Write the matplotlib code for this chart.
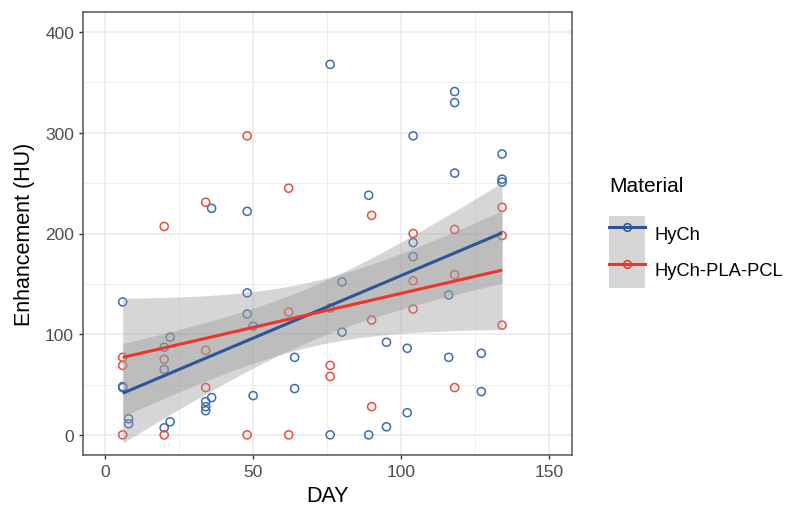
import numpy as np
import matplotlib
matplotlib.use("Agg")
import matplotlib.pyplot as plt
from matplotlib.lines import Line2D
from matplotlib.patches import Rectangle
from matplotlib.legend_handler import HandlerTuple

plt.rcParams['font.family'] = ['Liberation Sans', 'DejaVu Sans']

# HyCh
hych_day = [6, 6, 6, 8, 8, 20, 20, 20, 22, 22, 34, 34, 34, 36, 36,
            48, 48, 48, 50, 50, 64, 64, 76, 76, 76, 80, 80, 89, 89,
            95, 95, 102, 102, 104, 104, 104, 116, 116, 118, 118, 118,
            127, 127, 134, 134, 134]
hych_hu = [132, 47, 48, 16, 11, 7, 87, 65, 13, 97, 33, 28, 24, 37, 225,
           222, 141, 120, 108, 39, 77, 46, 368, 126, 0, 152, 102, 238, 0,
           92, 8, 86, 22, 297, 191, 177, 139, 77, 341, 330, 260,
           81, 43, 279, 254, 251]

# HyCh-PLA-PCL
pcl_day = [6, 6, 6, 20, 20, 20, 34, 34, 34, 48, 48, 62, 62, 62, 76, 76,
           90, 90, 90, 104, 104, 104, 118, 118, 118, 134, 134, 134]
pcl_hu = [77, 69, 0, 207, 75, 0, 231, 84, 47, 297, 0, 245, 122, 0, 69, 58,
          218, 114, 28, 200, 153, 125, 204, 159, 47, 226, 198, 109]

materials = ["HyCh", "HyCh-PLA-PCL"]
point_colors = ["#3E6CB0", "#EC4B3E"]
line_colors = ["#2C5597", "#EE3529"]


def t_quantile(df, z=1.959964):
    # Cornish-Fisher expansion of the t quantile
    return (z + (z**3 + z) / (4 * df)
            + (5 * z**5 + 16 * z**3 + 3 * z) / (96 * df**2)
            + (3 * z**7 + 19 * z**5 + 17 * z**3 - 15 * z) / (384 * df**3))


def lm_band(x, y, xs):
    x = np.asarray(x, float)
    y = np.asarray(y, float)
    n = len(x)
    b, a = np.polyfit(x, y, 1)
    resid = y - (a + b * x)
    s = np.sqrt(np.sum(resid**2) / (n - 2))
    sxx = np.sum((x - x.mean())**2)
    se = s * np.sqrt(1.0 / n + (xs - x.mean())**2 / sxx)
    fit = a + b * xs
    t = t_quantile(n - 2)
    return fit, fit - t * se, fit + t * se


fig = plt.figure(figsize=(7.85, 5.06), dpi=100)
ax = fig.add_axes([82.7 / 785, 1 - 456 / 506, 489 / 785, 443 / 506])

groups = [(hych_day, hych_hu), (pcl_day, pcl_hu)]

for (d, v), c in zip(groups, point_colors):
    ax.scatter(d, v, s=34, facecolors="none", edgecolors=c, linewidths=1.1, zorder=2)

fits = []
for (d, v) in groups:
    xs = np.linspace(min(d), max(d), 80)
    fit, lo, hi = lm_band(d, v, xs)
    ax.fill_between(xs, lo, hi, color="#999999", alpha=0.4, linewidth=0, zorder=3)
    fits.append((xs, fit))

for (xs, fit), c in zip(fits, line_colors):
    ax.plot(xs, fit, color=c, lw=2.2, zorder=4, solid_capstyle="butt")

ax.set_xlim(-7.5, 157.5)
ax.set_ylim(-20, 420)
ax.set_xticks([0, 50, 100, 150])
ax.set_yticks([0, 100, 200, 300, 400])
ax.set_xticks([25, 75, 125], minor=True)
ax.set_yticks([50, 150, 250, 350], minor=True)
ax.grid(which="major", color="#EBEBEB", lw=1.2, zorder=0)
ax.grid(which="minor", color="#EBEBEB", lw=0.6, zorder=0)
ax.set_axisbelow(True)
ax.tick_params(which="major", length=3.2, width=1.0, color="#333333",
               labelsize=12.5, labelcolor="#4D4D4D", pad=3)
ax.tick_params(which="minor", length=0)
for sp in ax.spines.values():
    sp.set_color("#555555")
    sp.set_linewidth(1.1)

ax.set_xlabel("DAY", fontsize=15.5)
ax.set_ylabel("Enhancement (HU)", fontsize=15.5)
ax.xaxis.set_label_coords(0.5, -0.068)
ax.yaxis.set_label_coords(-0.097, 0.5)

handles = []
for c in line_colors:
    bg = Rectangle((0, 0), 1, 1, facecolor="#999999", alpha=0.4, edgecolor="none")
    ln = Line2D([], [], color=c, lw=2.2, marker="o", markersize=5.5,
                markerfacecolor="none", markeredgewidth=1.1)
    handles.append((bg, ln))

leg = fig.legend(handles, materials, loc="upper left",
                 bbox_to_anchor=(607 / 785, 1 - 175 / 506),
                 handler_map={tuple: HandlerTuple(ndivide=1, pad=0)},
                 frameon=False, fontsize=13.2, title="Material",
                 title_fontsize=15, handlelength=1.96, handleheight=2.65,
                 labelspacing=0, handletextpad=0.55, borderpad=0.1,
                 borderaxespad=0)
leg._legend_box.align = "left"
leg._legend_box.sep = 15

fig.savefig("out.png", dpi=100)
